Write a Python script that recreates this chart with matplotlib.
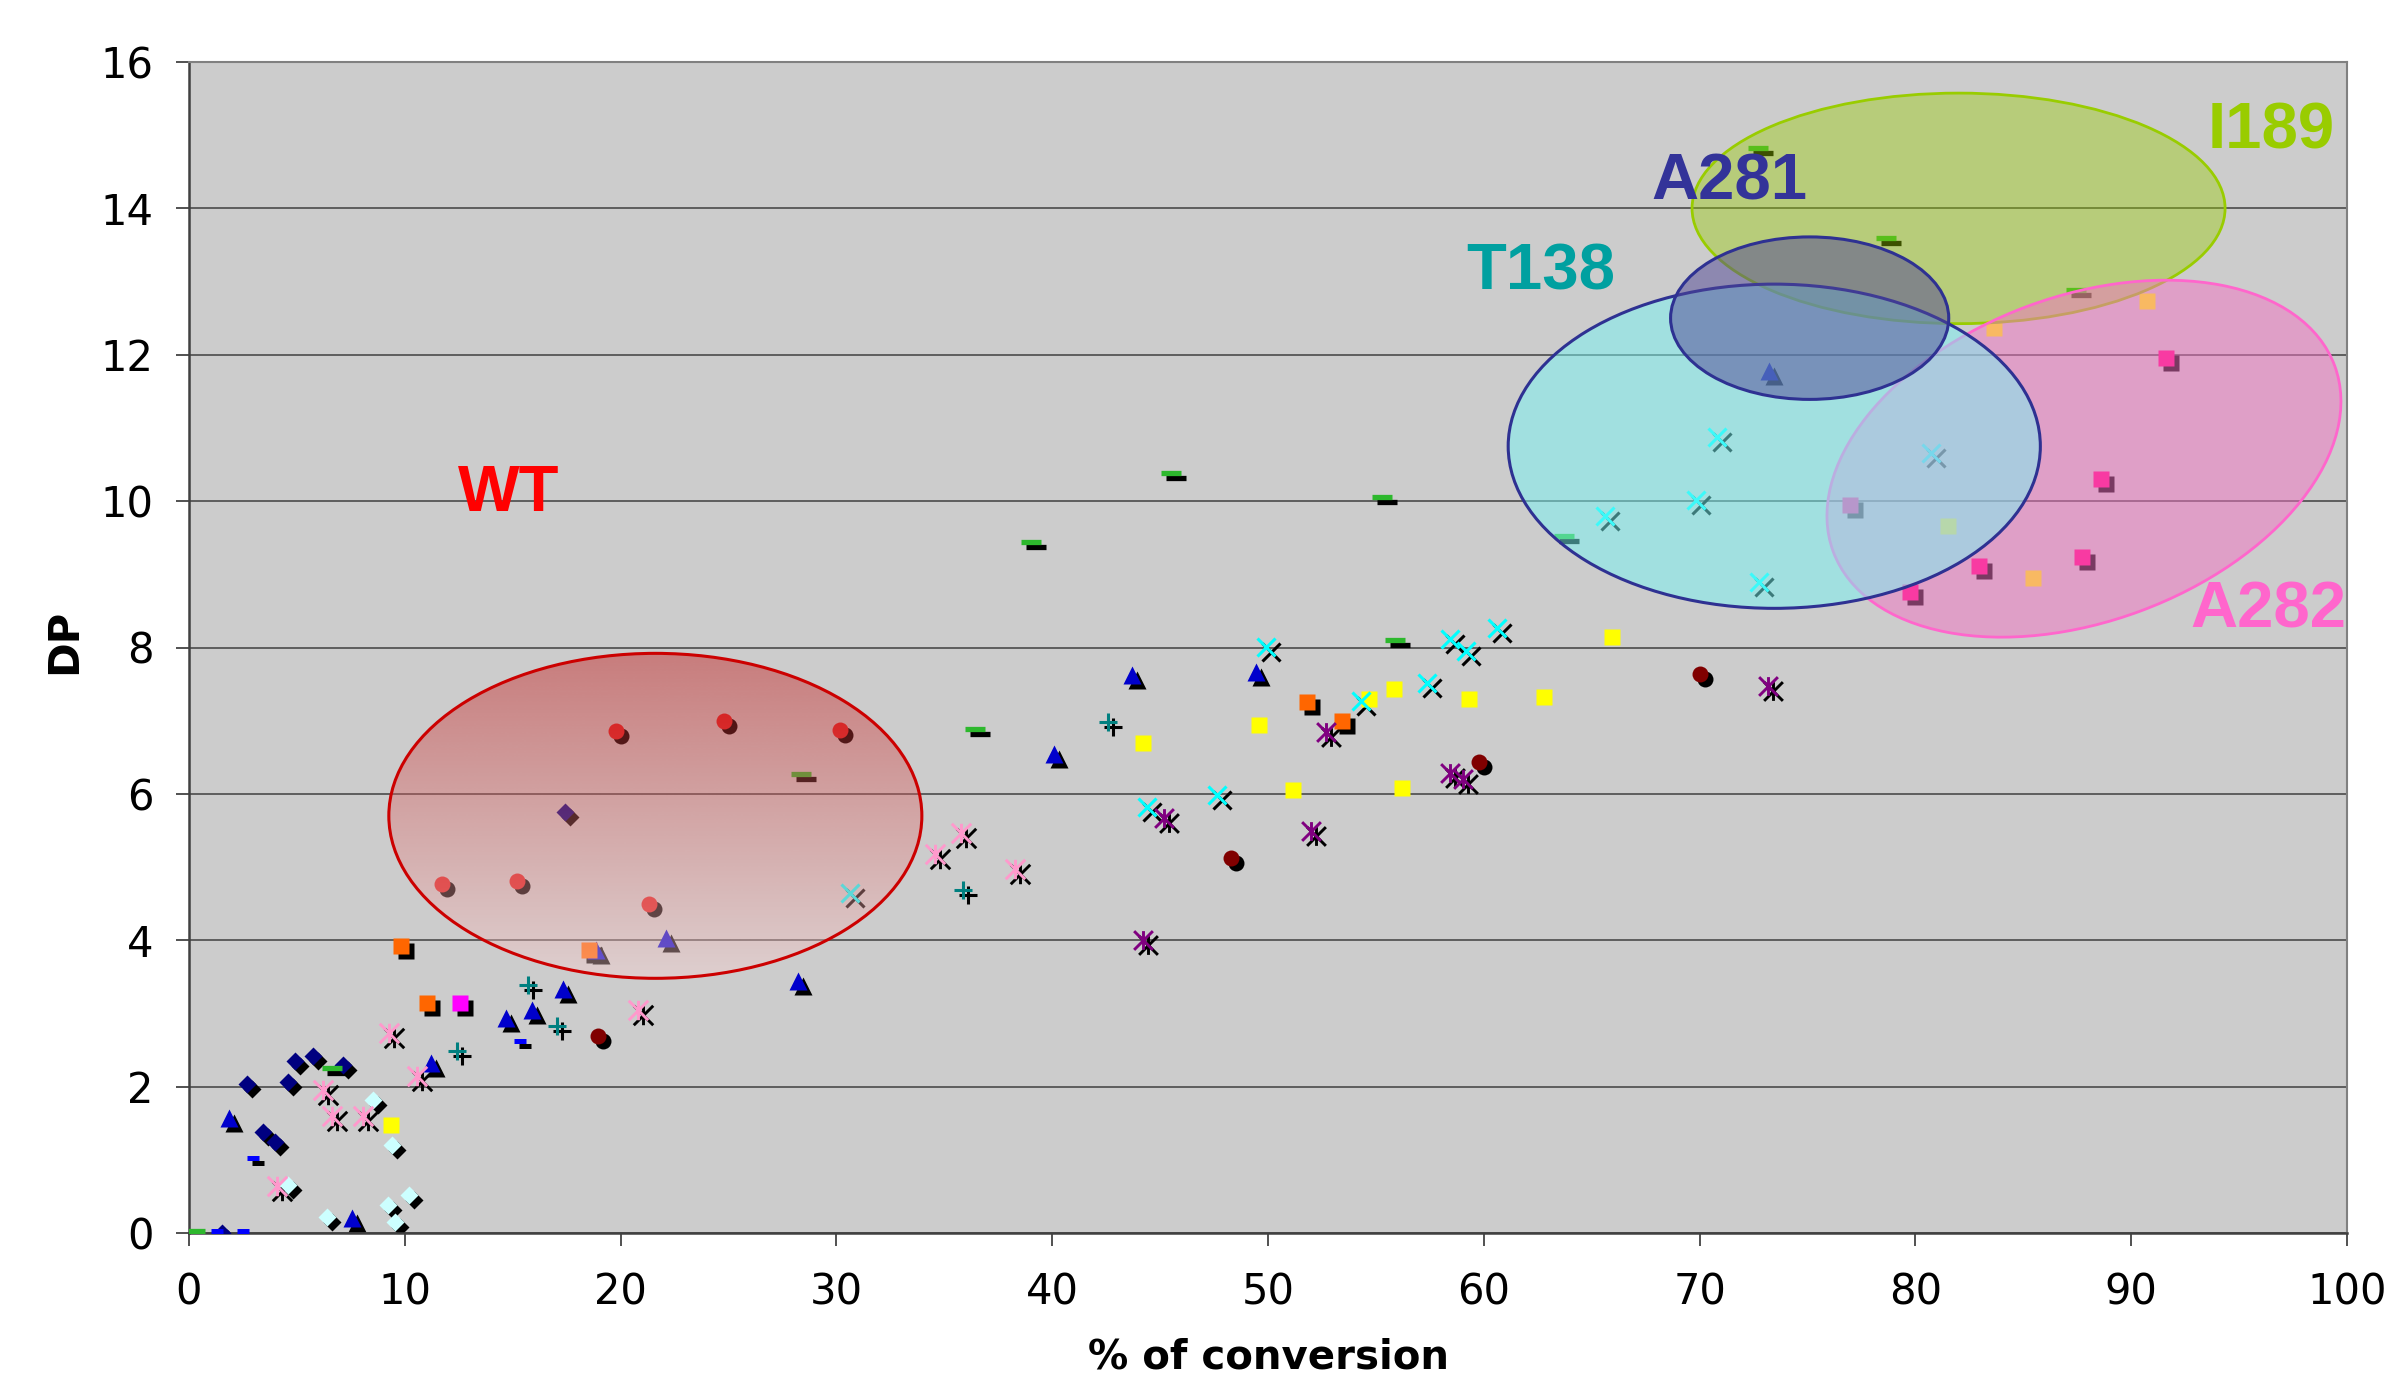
import numpy as np
import matplotlib
matplotlib.use('Agg')
import matplotlib.pyplot as plt
from matplotlib.patches import Ellipse
from matplotlib.path import Path
from matplotlib import transforms as mtrans

# ---------------- data ----------------
navy_diamond_x = [1.54, 2.67, 3.41, 3.99, 4.57, 4.91, 5.76, 7.15, 17.41]
navy_diamond_y = [0.0, 2.03, 1.38, 1.24, 2.07, 2.35, 2.42, 2.29, 5.75]

blue_tri_x = [1.87, 7.57, 11.21, 14.69, 15.88, 17.35, 18.88, 22.1, 28.22, 40.1, 43.7, 49.46, 73.2]
blue_tri_y = [1.57, 0.2, 2.32, 2.94, 3.05, 3.33, 3.87, 4.03, 3.44, 6.54, 7.63, 7.66, 11.78]

green_dash_x = [0.28, 6.61, 28.35, 36.4, 39.0, 45.5, 55.3, 55.9, 63.7, 72.7, 78.66, 87.45]
green_dash_y = [0.03, 2.26, 6.27, 6.89, 9.44, 10.39, 10.05, 8.10, 9.52, 14.83, 13.59, 12.88]

blue_dash_x = [1.31, 2.52, 2.95, 15.34]
blue_dash_y = [0.03, 0.03, 1.02, 2.62]

red_circle_x = [11.74, 15.19, 19.77, 21.33, 24.81, 30.18]
red_circle_y = [4.77, 4.81, 6.86, 4.49, 7.0, 6.87]

darkred_circle_x = [18.93, 48.3, 59.8, 70.04]
darkred_circle_y = [2.69, 5.13, 6.43, 7.64]

orange_sq_x = [9.82, 11.01, 18.55, 51.79, 53.45]
orange_sq_y = [3.92, 3.14, 3.86, 7.25, 7.0]

magenta_sq_x = [12.56]
magenta_sq_y = [3.14]

yellow_sq_x = [9.35, 44.23, 49.6, 51.17, 54.66, 55.85, 56.2, 59.33, 62.8, 65.92, 81.5, 83.66, 85.44, 90.72]
yellow_sq_y = [1.48, 6.69, 6.94, 6.05, 7.29, 7.43, 6.08, 7.29, 7.33, 8.14, 9.66, 12.37, 8.95, 12.74]

lcyan_diamond_x = [4.6, 6.38, 8.54, 9.24, 9.39, 9.55, 10.21]
lcyan_diamond_y = [0.66, 0.22, 1.82, 0.38, 1.2, 0.15, 0.52]

pink_ast_x = [4.09, 6.19, 6.61, 8.08, 9.28, 10.58, 20.8, 34.57, 35.77, 38.29]
pink_ast_y = [0.64, 1.96, 1.6, 1.6, 2.73, 2.14, 3.05, 5.18, 5.47, 4.98]

teal_plus_x = [12.41, 15.72, 17.07, 35.86, 42.6]
teal_plus_y = [2.48, 3.39, 2.83, 4.68, 6.98]

cyan_x_x = [30.63, 44.4, 47.65, 49.93, 54.3, 57.37, 58.42, 59.17, 60.6, 65.6, 69.84, 70.8, 72.76, 80.72]
cyan_x_y = [4.64, 5.82, 5.99, 8.01, 7.27, 7.52, 8.12, 7.95, 8.26, 9.8, 10.01, 10.88, 8.89, 10.66]

purple_ast_x = [44.2, 45.17, 51.97, 52.71, 58.42, 59.04, 73.18]
purple_ast_y = [4.01, 5.67, 5.49, 6.84, 6.29, 6.2, 7.48]

pink_sq_x = [76.95, 79.77, 82.93, 87.74, 88.58, 91.6]
pink_sq_y = [9.95, 8.76, 9.12, 9.23, 10.3, 11.95]

x_ticks = [0, 10, 20, 30, 40, 50, 60, 70, 80, 90, 100]
y_ticks = [0, 2, 4, 6, 8, 10, 12, 14, 16]

group_labels = ['WT', 'T138', 'A281', 'I189', 'A282']
group_label_x = [14.81, 62.66, 71.36, 96.5, 96.35]
group_label_y = [10.1, 13.12, 14.35, 15.05, 8.5]
group_label_colors = ['#FF0000', '#00A0A0', '#333399', '#99CC00', '#FF66CC']

# ---------------- figure ----------------
W, H = 2393, 1386
fig = plt.figure(figsize=(W / 100, H / 100), dpi=100)
ax_left, ax_bottom, ax_w, ax_h = 189 / W, (H - 1233) / H, 2158 / W, 1171 / H
ax = fig.add_axes([ax_left, ax_bottom, ax_w, ax_h])
ax.set_facecolor('#CCCCCC')
ax.set_xlim(0, 100)
ax.set_ylim(0, 16)
ax.set_axisbelow(True)
ax.yaxis.grid(True, color='#555555', lw=1.3)
ax.xaxis.grid(False)

ax.set_xticks(x_ticks)
ax.set_yticks(y_ticks)
ax.tick_params(axis='both', direction='out', length=9.5, width=1.2, color='#333333',
               labelsize=30, labelcolor='black')
ax.tick_params(axis='x', pad=18)
ax.tick_params(axis='y', pad=16)
ax.tick_params(top=False, right=False)

for side in ['left', 'bottom']:
    ax.spines[side].set_color('#404040')
    ax.spines[side].set_linewidth(1.8)
for side in ['top', 'right']:
    ax.spines[side].set_color('#808080')
    ax.spines[side].set_linewidth(1.5)

ax.set_xlabel('% of conversion', fontsize=29, fontweight='bold')
ax.xaxis.set_label_coords(0.5, -0.1067)
ax.xaxis.label.set_va('center')
ax.set_ylabel('DP', fontsize=30, fontweight='bold')
ax.yaxis.set_label_coords((64 - 189) / 2158, (1233 - 641) / 1171)
ax.yaxis.label.set_va('center')

shadow_tr = mtrans.offset_copy(ax.transData, fig=fig, x=5, y=-5, units='dots')

ast_path = Path([(-1, -1), (1, 1), (-1, 1), (1, -1), (0, -1), (0, 1)],
                [Path.MOVETO, Path.LINETO, Path.MOVETO, Path.LINETO, Path.MOVETO, Path.LINETO])


def filled(x, y, marker, color, ms, shadow=True):
    if shadow:
        ax.plot(x, y, ls='none', marker=marker, ms=ms, mfc='black', mec='none',
                transform=shadow_tr, zorder=2)
    ax.plot(x, y, ls='none', marker=marker, ms=ms, mfc=color, mec='none', zorder=3)


def stroked(x, y, marker, color, ms, mew, shadow=True):
    if shadow:
        ax.plot(x, y, ls='none', marker=marker, ms=ms, mfc='none', mec='black', mew=mew,
                transform=shadow_tr, zorder=2)
    ax.plot(x, y, ls='none', marker=marker, ms=ms, mfc='none', mec=color, mew=mew, zorder=3)


filled(navy_diamond_x, navy_diamond_y, 'D', '#000080', 9.5)
filled(lcyan_diamond_x, lcyan_diamond_y, 'D', '#CCFFFF', 9.5)
filled(blue_tri_x, blue_tri_y, '^', '#0000CC', 13)
stroked(green_dash_x, green_dash_y, '_', '#2DB82D', 14, 3.8)
stroked(blue_dash_x, blue_dash_y, '_', '#0000FF', 8, 3.6)
filled(red_circle_x, red_circle_y, 'o', '#DD2222', 11.5)
filled(darkred_circle_x, darkred_circle_y, 'o', '#800000', 11.5)
filled(orange_sq_x, orange_sq_y, 's', '#FF6600', 12)
filled(magenta_sq_x, magenta_sq_y, 's', '#FF00FF', 12)
filled(pink_sq_x, pink_sq_y, 's', '#FF0080', 12)
filled(yellow_sq_x, yellow_sq_y, 's', '#FFFF00', 11.5, shadow=False)
stroked(pink_ast_x, pink_ast_y, ast_path, '#FF99CC', 14, 2.1)
stroked(purple_ast_x, purple_ast_y, ast_path, '#800080', 13.5, 2.1)
stroked(teal_plus_x, teal_plus_y, '+', '#008080', 13, 2.2)
stroked(cyan_x_x, cyan_x_y, 'x', '#00FFFF', 12.8, 2.2)

# ---------------- group ellipses ----------------
# WT: gradient filled ellipse
wt_cx, wt_cy, wt_w, wt_h = 21.61, 5.70, 24.7, 4.44
wt = Ellipse((wt_cx, wt_cy), wt_w, wt_h, facecolor='none', edgecolor='#CC0000', lw=2.2, zorder=5.1)
ax.add_patch(wt)
n = 256
t = np.linspace(0, 1, n)[:, None]  # 0 bottom -> 1 top
top_c = np.array([194, 6, 6]) / 255
bot_c = np.array([249, 212, 212]) / 255
grad = np.zeros((n, 1, 4))
grad[:, 0, :3] = (1 - t) * bot_c + t * top_c
grad[:, 0, 3] = 0.4
im = ax.imshow(grad, extent=[wt_cx - wt_w / 2, wt_cx + wt_w / 2, wt_cy - wt_h / 2, wt_cy + wt_h / 2],
               origin='lower', aspect='auto', zorder=5, interpolation='bilinear')
im.set_clip_path(wt)

# I189
ax.add_patch(Ellipse((82.0, 14.0), 24.7, 3.15, facecolor=(153 / 255, 204 / 255, 0, 0.4),
                     edgecolor='#99CC00', lw=2.0, zorder=6))

# A282 (tilted, defined in pixel units around its centre)
sx = ax_w * W / 100.0
sy = ax_h * H / 16.0
a282_tr = mtrans.Affine2D().scale(1 / sx, 1 / sy).translate(87.81, 10.58) + ax.transData
ax.add_patch(Ellipse((0, 0), 534.8, 325, angle=20.35, transform=a282_tr,
                     facecolor=(242 / 255, 116 / 255, 196 / 255, 0.5), edgecolor='#FF66CC', lw=2.0, zorder=7))

# T138
ax.add_patch(Ellipse((73.46, 10.75), 24.66, 4.43, facecolor=(120 / 255, 245 / 255, 245 / 255, 0.5),
                     edgecolor='#2E3192', lw=2.2, zorder=8))
# A281
ax.add_patch(Ellipse((75.1, 12.5), 12.89, 2.22, facecolor=(80 / 255, 70 / 255, 150 / 255, 0.5),
                     edgecolor='#2E3192', lw=2.2, zorder=9))

for lab, lx, ly, lc in zip(group_labels, group_label_x, group_label_y, group_label_colors):
    ax.text(lx, ly, lab, color=lc, fontsize=47, fontweight='bold', family='Liberation Sans',
            ha='center', va='center', zorder=10)

ax.set_xlim(0, 100)
ax.set_ylim(0, 16)

fig.savefig('out.png', dpi=100, facecolor='white')
